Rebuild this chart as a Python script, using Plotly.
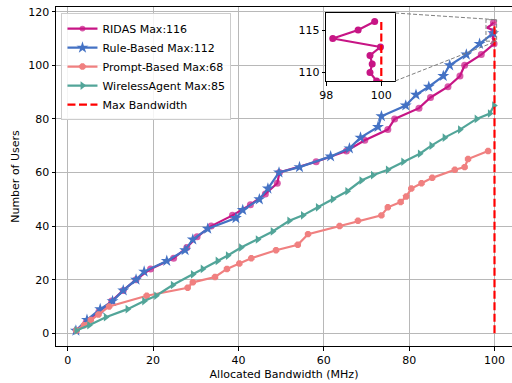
import plotly.graph_objects as go

# ---------------- data ----------------
ridas_x = [2.0, 4.3, 7.3, 10.3, 13.0, 16.0, 19.4, 24.8, 27.9, 30.3, 33.6, 38.6, 42.8, 46.3,
           49.1, 49.6, 58.2, 65.3, 69.6, 75.0, 76.6, 82.3, 85.0, 89.1, 91.9, 93.0, 96.9,
           99.9, 99.83, 99.59, 99.67, 99.59, 99.97, 98.24, 99.16, 99.76]
ridas_y = [1, 4, 8, 12, 16, 20, 24, 28, 32, 36, 40, 44, 48, 52,
           56, 60, 64, 68, 72, 76, 80, 84, 88, 92, 96, 100, 104,
           108, 109, 110, 111, 112, 113, 114, 115, 116]

rule_x = [1.9, 4.5, 7.6, 10.5, 13.0, 16.0, 17.9, 23.2, 27.5, 29.3, 32.8, 39.4, 41.0, 44.9,
          46.9, 49.5, 54.3, 61.6, 66.0, 68.6, 72.7, 73.5, 79.2, 81.6, 84.6, 88.0, 89.5,
          93.4, 96.5, 99.7]
rule_y = [1, 5, 9, 12, 16, 20, 23, 27, 31, 35, 39, 43, 46, 50,
          54, 60, 62, 66, 69, 73, 77, 81, 85, 89, 92, 96, 100,
          104, 108, 112]

prompt_x = [2.0, 3.8, 5.4, 7.2, 9.7, 18.5, 28.1, 29.3, 34.5, 37.3, 40.2, 43.0, 48.8, 53.9,
            56.3, 63.7, 68.0, 73.5, 75.0, 78.0, 79.3, 80.5, 82.9, 85.4, 90.7, 93.0, 93.8, 98.5]
prompt_y = [1, 3, 5, 7, 10, 14, 17, 19, 21, 24, 26, 28, 31, 33,
            37, 40, 42, 44, 47, 49, 51, 54, 56, 58, 61, 62, 65, 68]

wa_x = [2.0, 5.0, 8.9, 14.0, 17.9, 20.7, 24.6, 29.3, 31.6, 35.1, 37.5, 40.6, 44.5, 48.0,
        51.9, 55.1, 58.6, 62.1, 65.5, 68.8, 71.5, 75.0, 78.6, 82.5, 85.2, 88.3, 91.9,
        95.8, 98.9, 99.9]
wa_y = [1, 3, 6, 9, 12, 14, 18, 22, 24, 27, 29, 32, 35, 38,
        42, 44, 47, 50, 53, 57, 59, 61, 64, 67, 70, 73, 76,
        80, 82, 85]

max_bandwidth = 100
names = ["RIDAS", "Rule-Based", "Prompt-Based", "WirelessAgent"]

x_tick_vals = [0, 20, 40, 60, 80, 100]
y_tick_vals = [0, 20, 40, 60, 80, 100, 120]
inset_x_ticks = [98, 100]
inset_y_ticks = [110, 115]

# ---------------- styling ----------------
FONT = "DejaVu Sans"
C_RIDAS = "#C71585"
C_RULE = "#4472C4"
C_PROMPT = "#F08080"
C_WA = "#52A599"
LW = 2.2

XR = [-2.76, 104.1]
YR = [-4.75, 121.75]
IXR = [98, 100.5]
IYR = [109, 117]
inset_dom_x = [0.5924, 0.7436]
inset_dom_y = [0.7817, 0.9823]

fig = go.Figure()

ridas_sizes = [7 if (i == 0 or y % 4 == 0) else 0 for i, y in enumerate(ridas_y)]

def add_series(x, y, name, color, symbol, size):
    fig.add_trace(go.Scatter(
        x=x, y=y, name=f"{name} Max:{max(y)}", mode="lines+markers",
        line=dict(color=color, width=LW),
        marker=dict(symbol=symbol, size=size, color=color, line=dict(width=0)),
        xaxis="x", yaxis="y"))

add_series(ridas_x, ridas_y, names[0], C_RIDAS, "circle", ridas_sizes)
add_series(rule_x, rule_y, names[1], C_RULE, "star", 9)
add_series(prompt_x, prompt_y, names[2], C_PROMPT, "octagon", 7)
add_series(wa_x, wa_y, names[3], C_WA, "triangle-right", 7.5)

vmax = max(ridas_y)
fig.add_trace(go.Scatter(
    x=[max_bandwidth, max_bandwidth], y=[0, vmax], mode="lines", name="Max Bandwidth",
    line=dict(color="#FF0000", width=LW, dash="8px,3.5px"), xaxis="x", yaxis="y"))

# inset
fig.add_trace(go.Scatter(
    x=ridas_x, y=ridas_y, mode="lines+markers", showlegend=False,
    line=dict(color=C_RIDAS, width=LW),
    marker=dict(symbol="circle", size=7, color=C_RIDAS),
    xaxis="x2", yaxis="y2"))
fig.add_trace(go.Scatter(
    x=[max_bandwidth, max_bandwidth], y=[0, vmax], mode="lines", showlegend=False,
    line=dict(color="#FF0000", width=LW, dash="8px,3.5px"), xaxis="x2", yaxis="y2"))

def px_x(v):
    return (v - XR[0]) / (XR[1] - XR[0])

def px_y(v):
    return (v - YR[0]) / (YR[1] - YR[0])

gray_dash = dict(color="#808080", width=1, dash="4px,2px")
shapes = [
    dict(type="rect", xref="x", yref="y", x0=IXR[0], x1=IXR[1], y0=IYR[0], y1=IYR[1],
         line=gray_dash, layer="above"),
    dict(type="line", xref="paper", yref="paper", x0=inset_dom_x[1], y0=inset_dom_y[1],
         x1=px_x(IXR[1]), y1=px_y(IYR[1]), line=gray_dash, layer="above"),
    dict(type="line", xref="paper", yref="paper", x0=inset_dom_x[1], y0=inset_dom_y[0],
         x1=px_x(IXR[1]), y1=px_y(IYR[0]), line=gray_dash, layer="above"),
]

axis_font = dict(family=FONT, size=11, color="black")
common = dict(showline=True, linecolor="black", linewidth=1, ticks="outside",
              ticklen=3.5, tickwidth=1, tickcolor="black", tickfont=axis_font,
              zeroline=False, automargin=False)

fig.update_layout(
    width=512, height=383,
    margin=dict(l=56, r=0, t=7, b=37, autoexpand=False),
    paper_bgcolor="white", plot_bgcolor="white",
    font=dict(family=FONT, size=11, color="black"),
    shapes=shapes,
    xaxis=dict(range=XR, tickvals=x_tick_vals, showgrid=True, gridcolor="#b8b8b8",
               gridwidth=1, mirror=True,
               title=dict(text="Allocated Bandwidth (MHz)", font=axis_font, standoff=4),
               **common),
    yaxis=dict(range=YR, tickvals=y_tick_vals, showgrid=True, gridcolor="#b8b8b8",
               gridwidth=1, mirror=False,
               title=dict(text="Number of Users", font=axis_font, standoff=6),
               **common),
    xaxis2=dict(domain=inset_dom_x, range=IXR, tickvals=inset_x_ticks, anchor="y2",
                showgrid=False, mirror=True, **common),
    yaxis2=dict(domain=inset_dom_y, range=IYR, tickvals=inset_y_ticks, anchor="x2",
                showgrid=False, mirror=True, **common),
    legend=dict(x=0.012, y=0.982, xanchor="left", yanchor="top",
                bgcolor="rgba(255,255,255,0.85)", bordercolor="#cccccc", borderwidth=1,
                font=dict(family=FONT, size=11, color="black"), itemwidth=30),
    showlegend=True,
)

fig.write_html("out.html", config={"displayModeBar": False},
               post_script="document.body.style.margin='0';document.body.style.padding='0';")
